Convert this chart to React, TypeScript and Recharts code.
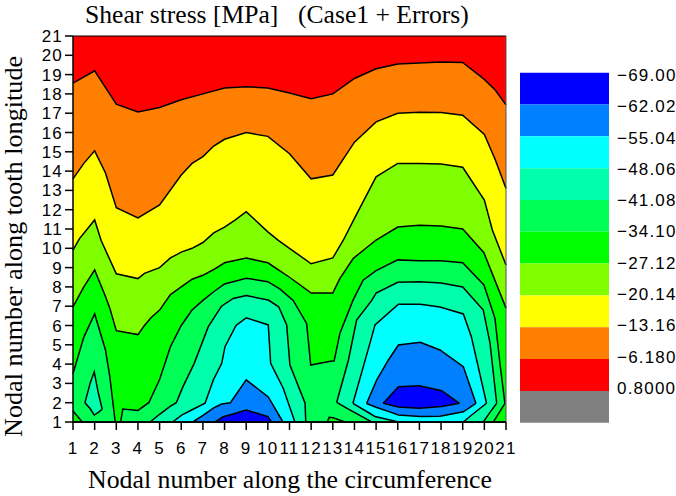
import { Area, Bar, ComposedChart, Line, ReferenceLine, XAxis, YAxis } from 'recharts'

// contour edges: [x, upper y, lower y (default 1)]
type Edge = number[]

const gridTicks = Array.from({ length: 21 }, (_, i) => i + 1)

const fullField: Edge[] = [[1, 21], [21, 21]]

const orangeEdge: Edge[] = [
  [1, 18.56], [2, 19.2], [3, 17.47], [4, 17.06], [5, 17.3], [6, 17.7], [7, 18], [8, 18.3], [9, 18.37],
  [10, 18.3], [11, 18.05], [12, 17.75], [13, 18], [14, 18.8], [15, 19.3], [16, 19.55], [17, 19.6],
  [18, 19.65], [19, 19.63], [20, 18.75], [20.5, 18.2], [21, 17.43],
]

const yellowEdge: Edge[] = [
  [1, 13.6], [1.5, 14.4], [2, 15.05], [2.5, 13.9], [3, 12.1], [4, 11.57], [5, 12.25], [6, 13.8], [6.5, 14.4],
  [7, 14.75], [7.5, 15.3], [8, 15.65], [9, 16], [10, 15.8], [11, 14.9], [12, 13.6], [13, 13.8], [14, 15.5],
  [15, 16.55], [16, 17], [17, 17.05], [18, 17.03], [19, 16.9], [20, 15.9], [20.5, 14.6], [21, 13.1],
]

const limeEdge: Edge[] = [
  [1, 9.9], [1.3, 10.5], [2, 11.47], [2.3, 10.4], [3, 8.68], [4, 8.43], [4.3, 8.7], [5, 9], [5.5, 9.5], [6, 9.8],
  [6.5, 10], [7, 10.3], [7.5, 10.8], [8, 11.1], [8.5, 11.47], [9, 11.9], [10, 10.85], [10.5, 10.4], [11, 10],
  [12, 9.2], [13, 9.5], [13.49, 10.43], [14, 11.55], [15, 13.7], [16, 14.4], [17, 14.4], [18, 14.37], [19, 14.2],
  [20, 12.5], [20.37, 10.95], [21, 9.13],
]

const greenEdge: Edge[] = [
  [1, 6.97], [1.5, 8], [2, 8.88], [2.5, 7.5], [2.7, 6.9], [3, 5.73], [4, 5.53], [4.3, 6], [4.6, 6.4], [5, 6.8],
  [5.5, 7.6], [6, 8], [6.5, 8.4], [7, 8.6], [7.5, 8.9], [8, 9.25], [9, 9.5], [10, 9.25], [11, 8.5], [12, 7.68],
  [13, 7.68], [13.33, 8.44], [13.95, 9.48], [15, 10.43], [16, 11.1], [17, 11.2], [18, 11.15], [19, 11],
  [19.98, 9.77], [21, 6.9],
]

const mintLeft: Edge[] = [[1, 3.5], [1.5, 5.4], [2, 6.6], [2.5, 4.73], [2.7, 3.35], [2.95, 1]]
const cornerLeft: Edge[] = [[1, 1.57], [1.43, 1]]
const tealLeft: Edge[] = [[1.55, 2, 2], [1.79, 3, 1.7], [1.98, 3.6, 1.36], [2.17, 2.5, 1.5], [2.35, 1.66, 1.66]]

const mintEdge: Edge[] = [
  [3.2, 1], [3.3, 1.67], [4, 1.6], [4.5, 2], [5, 3.2], [5.5, 4.9], [6, 6], [6.5, 6.8], [7, 7.3], [7.5, 7.75],
  [8, 8.15], [9, 8.45], [10, 8.27], [10.55, 7.9], [11.17, 7.3], [11.79, 6.11], [11.98, 3.95], [12.95, 4.16],
  [13.06, 4.16], [13.33, 5.6], [13.93, 7.3], [14.4, 8.35], [15, 8.84], [16, 9.4], [17, 9.36], [18, 9.35], [19, 9.25],
  [19.98, 8.1], [20.41, 6.65], [20.49, 6.37, 1.14], [20.72, 4.03, 1.55], [20.95, 1.96, 1.96],
]
const patch13: Edge[] = [[12.75, 1], [12.83, 1.24], [13.02, 1.22], [13.56, 1]]

const tealMid: Edge[] = [
  [4.56, 1], [5, 1.4], [5.47, 1.8], [5.77, 2], [6.08, 2.83], [6.6, 4.04], [7.25, 5.94], [7.86, 7], [8.4, 7.4],
  [9, 7.55], [10.02, 7.32], [10.5, 6.97], [10.87, 6.03], [11.02, 3.95], [11.72, 1.97], [11.75, 1],
]
const tealRight: Edge[] = [
  [13.18, 2.02, 2.02], [13.72, 4.2, 1.67], [14.1, 6.28, 1.43], [14.8, 7.3, 1], [15, 7.68], [16, 8.24], [17, 8.27],
  [18, 8.2], [19, 8], [19.95, 6.8], [20.26, 5.1, 1.5], [20.57, 1.97, 1.97],
]

const cyanMid: Edge[] = [
  [5.6, 1], [6.02, 1.36], [6.48, 1.62], [7.1, 1.97], [7.48, 3.18], [7.87, 4.04], [8.02, 4.9], [8.53, 6], [9, 6.4],
  [10.02, 6.03], [10.13, 4.04], [10.71, 2.75], [11.25, 1],
]
const cyanRight: Edge[] = [
  [13.93, 1.97, 1.97], [14.72, 5.1, 1.44], [14.95, 6.03, 1.28], [16.03, 7.1], [17.04, 7.1], [17.95, 6.96], [19.03, 6.6],
  [19.4, 5.42, 1.35], [20.1, 1.97, 1.97],
]

const skyMid: Edge[] = [[6.53, 1], [7.02, 1.36], [7.48, 1.72], [7.86, 1.93], [8.27, 2], [9, 3.18], [10.02, 2.3], [10.7, 1]]
const skyRight: Edge[] = [
  [14.56, 1.96, 1.96], [15.03, 3.18, 1.75], [15.56, 4.2, 1.55], [16.03, 4.99, 1.36], [17.04, 5.13, 1.28],
  [17.95, 4.73, 1.3], [19.03, 3.87, 1.53], [19.61, 1.97, 1.97],
]

const blueMid: Edge[] = [[7.56, 1], [7.94, 1.27], [8.4, 1.41], [9, 1.62], [10, 1.28], [10.17, 1]]
const blueRight: Edge[] = [
  [15.33, 1.97, 1.97], [16.03, 2.83, 1.78], [16.99, 2.88, 1.71], [18.03, 2.62, 1.8], [18.85, 1.97, 1.97],
]

const legendColors = ['#0000ff', '#0080ff', '#00ffff', '#00ffaa', '#00ff55', '#00ff00', '#80ff00', '#ffff00', '#ff8000', '#ff0000', '#808080']
const legendLabels = ['−69.00', '−62.02', '−55.04', '−48.06', '−41.08', '−34.10', '−27.12', '−20.14', '−13.16', '−6.180', '0.8000']
const legendTicks = legendLabels.map((_, i) => i)

const [BLUE, SKY, CYAN, TEAL, MINT, GREEN, LIME, YELLOW, ORANGE, RED] = legendColors

const layers: [Edge[], string][] = [
  [orangeEdge, ORANGE],
  [yellowEdge, YELLOW],
  [limeEdge, LIME],
  [greenEdge, GREEN],
  [mintLeft, MINT],
  [cornerLeft, GREEN],
  [tealLeft, TEAL],
  [mintEdge, MINT],
  [patch13, GREEN],
  [tealMid, TEAL],
  [tealRight, TEAL],
  [cyanMid, CYAN],
  [cyanRight, CYAN],
  [skyMid, SKY],
  [skyRight, SKY],
  [blueMid, BLUE],
  [blueRight, BLUE],
]

const toRows = (edge: Edge[]) => edge.map(([x, hi, lo]) => ({ x, band: [lo ?? 1, hi] }))

const sans = '"Liberation Sans", Arial, sans-serif'
const serif = '"Liberation Serif", "Times New Roman", serif'
const tickStyle = { fontFamily: sans, fontSize: 17, fill: '#000', letterSpacing: 1.2 }
const axisStroke = { stroke: '#000', strokeWidth: 1.5 }

export default function App() {
  return (
    <div style={{ position: 'absolute', left: 0, top: 0, width: 676, height: 496, background: '#fff', overflow: 'hidden' }}>
      <ComposedChart width={530} height={496} margin={{ top: 36, right: 24, left: 0, bottom: 0 }} data={toRows(fullField)}>
        <Area dataKey="band" data={toRows(fullField)} type="linear" fill={RED} fillOpacity={1} stroke="none" isAnimationActive={false} />
        {layers.map(([edge, color], i) => (
          <Area
            key={i}
            dataKey="band"
            data={toRows(edge)}
            type="linear"
            fill={color}
            fillOpacity={1}
            stroke="#000"
            strokeWidth={1.5}
            isAnimationActive={false}
          />
        ))}
        <XAxis
          dataKey="x"
          type="number"
          domain={[1, 21]}
          ticks={gridTicks}
          interval={0}
          height={74}
          tickSize={8}
          tickMargin={12}
          tick={tickStyle}
          axisLine={axisStroke}
          tickLine={axisStroke}
        />
        <YAxis
          type="number"
          domain={[1, 21]}
          ticks={gridTicks}
          interval={0}
          width={73}
          tickSize={8}
          tickMargin={2}
          tick={tickStyle}
          axisLine={axisStroke}
          tickLine={axisStroke}
        />
        <ReferenceLine y={21} stroke="#000" strokeWidth={1} />
        <ReferenceLine x={21} stroke="#555" strokeWidth={1} />
        <text x={85} y={23} fontFamily={serif} fontSize={25.6} fill="#000">Shear stress [MPa]</text>
        <text x={298} y={23} fontFamily={serif} fontSize={25.6} fill="#000">(Case1 + Errors)</text>
        <text x={88} y={488} fontFamily={serif} fontSize={25.8} fill="#000">Nodal number along the circumference</text>
        <text transform="translate(22 437) rotate(-90)" fontFamily={serif} fontSize={26.2} fill="#000">Nodal number along tooth longitude</text>
      </ComposedChart>
      <div style={{ position: 'absolute', left: 520, top: 0 }}>
        <ComposedChart width={156} height={496} data={[{ name: 'scale', ...Object.fromEntries(legendColors.map((_, i) => [`band${i}`, 1])) }]} margin={{ top: 72.7, right: 0, left: 0, bottom: 73.3 }} barCategoryGap={0}>
          <XAxis dataKey="name" hide />
          <YAxis yAxisId="bars" hide reversed type="number" domain={[0, 11]} />
          <YAxis
            yAxisId="labels"
            orientation="right"
            type="number"
            reversed
            domain={[-0.07, 11.11]}
            ticks={legendTicks}
            interval={0}
            width={67}
            tickLine={false}
            axisLine={false}
            tickMargin={2}
            tick={tickStyle}
            tickFormatter={(v: number) => legendLabels[v]}
          />
          {legendColors.map((color, i) => (
            <Bar key={color} yAxisId="bars" dataKey={`band${i}`} stackId="scale" fill={color} isAnimationActive={false} />
          ))}
          <Line yAxisId="labels" dataKey="band0" stroke="none" dot={{ r: 0, fill: 'none', stroke: 'none' }} activeDot={false} legendType="none" isAnimationActive={false} />
        </ComposedChart>
      </div>
    </div>
  )
}
